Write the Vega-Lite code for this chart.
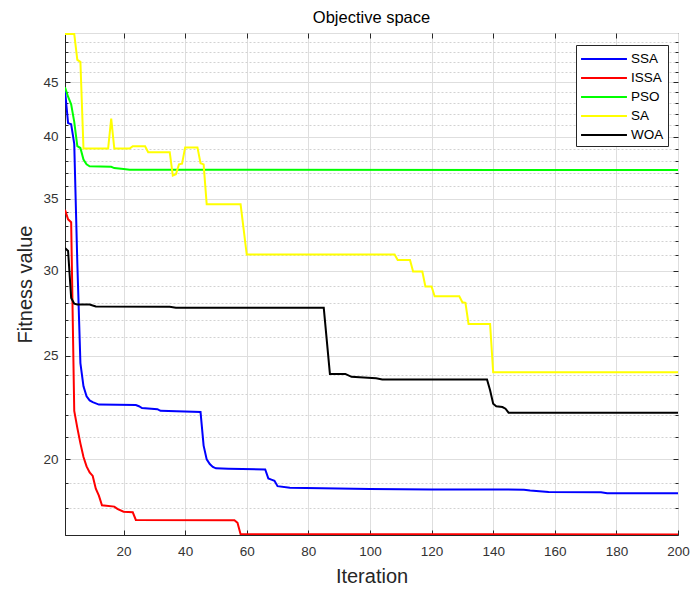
{
  "$schema": "https://vega.github.io/schema/vega-lite/v6.json",
  "width": 613,
  "height": 502,
  "autosize": {"type": "none"},
  "padding": {"left": 65, "top": 33, "right": 12, "bottom": 55},
  "background": "white",
  "title": {"text": "Objective space", "fontSize": 16.5, "fontWeight": "normal", "font": "Liberation Sans", "color": "#000000", "offset": 0, "anchor": "middle"},
  "config": {"view": {"stroke": "#262626", "strokeWidth": 1}, "font": "Liberation Sans"},
  "datasets": {
    "d": [
      {"s": "SSA", "it": 1, "v": 44.2}, {"s": "SSA", "it": 2, "v": 41.2}, {"s": "SSA", "it": 3, "v": 41.1}, {"s": "SSA", "it": 4, "v": 39.4},
      {"s": "SSA", "it": 5, "v": 30.5}, {"s": "SSA", "it": 6, "v": 24.6}, {"s": "SSA", "it": 7, "v": 23.4}, {"s": "SSA", "it": 8, "v": 22.9},
      {"s": "SSA", "it": 9, "v": 22.7}, {"s": "SSA", "it": 10, "v": 22.62}, {"s": "SSA", "it": 12, "v": 22.5}, {"s": "SSA", "it": 24, "v": 22.48},
      {"s": "SSA", "it": 25, "v": 22.42}, {"s": "SSA", "it": 26, "v": 22.33}, {"s": "SSA", "it": 31, "v": 22.28}, {"s": "SSA", "it": 32, "v": 22.2},
      {"s": "SSA", "it": 45, "v": 22.14}, {"s": "SSA", "it": 46, "v": 20.6}, {"s": "SSA", "it": 47, "v": 20.0}, {"s": "SSA", "it": 48, "v": 19.8},
      {"s": "SSA", "it": 49, "v": 19.68}, {"s": "SSA", "it": 50, "v": 19.62}, {"s": "SSA", "it": 54, "v": 19.6}, {"s": "SSA", "it": 66, "v": 19.57},
      {"s": "SSA", "it": 67, "v": 19.2}, {"s": "SSA", "it": 68, "v": 19.15}, {"s": "SSA", "it": 69, "v": 19.1}, {"s": "SSA", "it": 70, "v": 18.88},
      {"s": "SSA", "it": 74, "v": 18.82}, {"s": "SSA", "it": 100, "v": 18.77}, {"s": "SSA", "it": 120, "v": 18.75}, {"s": "SSA", "it": 150, "v": 18.74},
      {"s": "SSA", "it": 152, "v": 18.71}, {"s": "SSA", "it": 158, "v": 18.65}, {"s": "SSA", "it": 175, "v": 18.64}, {"s": "SSA", "it": 177, "v": 18.6},
      {"s": "SSA", "it": 200, "v": 18.6},
      {"s": "ISSA", "it": 1, "v": 34.2}, {"s": "ISSA", "it": 2, "v": 33.5}, {"s": "ISSA", "it": 3, "v": 33.3}, {"s": "ISSA", "it": 4, "v": 22.2},
      {"s": "ISSA", "it": 5, "v": 21.4}, {"s": "ISSA", "it": 6, "v": 20.7}, {"s": "ISSA", "it": 7, "v": 20.1}, {"s": "ISSA", "it": 8, "v": 19.7},
      {"s": "ISSA", "it": 9, "v": 19.45}, {"s": "ISSA", "it": 10, "v": 19.3}, {"s": "ISSA", "it": 11, "v": 18.78}, {"s": "ISSA", "it": 12, "v": 18.5},
      {"s": "ISSA", "it": 13, "v": 18.12}, {"s": "ISSA", "it": 17, "v": 18.07}, {"s": "ISSA", "it": 18, "v": 17.98}, {"s": "ISSA", "it": 20, "v": 17.87},
      {"s": "ISSA", "it": 23, "v": 17.85}, {"s": "ISSA", "it": 24, "v": 17.56}, {"s": "ISSA", "it": 56, "v": 17.55}, {"s": "ISSA", "it": 57, "v": 17.45},
      {"s": "ISSA", "it": 58, "v": 17.03}, {"s": "ISSA", "it": 200, "v": 17.02},
      {"s": "PSO", "it": 1, "v": 44.5}, {"s": "PSO", "it": 2, "v": 43.6}, {"s": "PSO", "it": 3, "v": 42.9}, {"s": "PSO", "it": 4, "v": 41.3},
      {"s": "PSO", "it": 5, "v": 39.2}, {"s": "PSO", "it": 6, "v": 39.05}, {"s": "PSO", "it": 7, "v": 38.1}, {"s": "PSO", "it": 8, "v": 37.7},
      {"s": "PSO", "it": 9, "v": 37.55}, {"s": "PSO", "it": 16, "v": 37.5}, {"s": "PSO", "it": 17, "v": 37.4}, {"s": "PSO", "it": 20, "v": 37.33},
      {"s": "PSO", "it": 22, "v": 37.27}, {"s": "PSO", "it": 200, "v": 37.25},
      {"s": "SA", "it": 1, "v": 49.9}, {"s": "SA", "it": 4, "v": 49.9}, {"s": "SA", "it": 5, "v": 47.2}, {"s": "SA", "it": 6, "v": 47.0},
      {"s": "SA", "it": 7, "v": 39.0}, {"s": "SA", "it": 15, "v": 39.0}, {"s": "SA", "it": 16, "v": 41.6}, {"s": "SA", "it": 17, "v": 39.0},
      {"s": "SA", "it": 22, "v": 39.0}, {"s": "SA", "it": 23, "v": 39.2}, {"s": "SA", "it": 27, "v": 39.2}, {"s": "SA", "it": 28, "v": 38.7},
      {"s": "SA", "it": 35, "v": 38.7}, {"s": "SA", "it": 36, "v": 36.8}, {"s": "SA", "it": 37, "v": 36.9}, {"s": "SA", "it": 38, "v": 37.7},
      {"s": "SA", "it": 39, "v": 37.75}, {"s": "SA", "it": 40, "v": 39.1}, {"s": "SA", "it": 44, "v": 39.1}, {"s": "SA", "it": 45, "v": 37.8},
      {"s": "SA", "it": 46, "v": 37.7}, {"s": "SA", "it": 47, "v": 34.6}, {"s": "SA", "it": 58, "v": 34.6}, {"s": "SA", "it": 60, "v": 31.06},
      {"s": "SA", "it": 108, "v": 31.06}, {"s": "SA", "it": 109, "v": 30.7}, {"s": "SA", "it": 113, "v": 30.7}, {"s": "SA", "it": 114, "v": 29.95},
      {"s": "SA", "it": 117, "v": 29.95}, {"s": "SA", "it": 118, "v": 29.0}, {"s": "SA", "it": 120, "v": 29.0}, {"s": "SA", "it": 121, "v": 28.39},
      {"s": "SA", "it": 129, "v": 28.39}, {"s": "SA", "it": 130, "v": 28.03}, {"s": "SA", "it": 131, "v": 28.0}, {"s": "SA", "it": 132, "v": 26.76},
      {"s": "SA", "it": 139, "v": 26.76}, {"s": "SA", "it": 140, "v": 24.12}, {"s": "SA", "it": 200, "v": 24.12},
      {"s": "WOA", "it": 1, "v": 31.5}, {"s": "WOA", "it": 2, "v": 31.3}, {"s": "WOA", "it": 3, "v": 28.3}, {"s": "WOA", "it": 4, "v": 27.95},
      {"s": "WOA", "it": 5, "v": 27.9}, {"s": "WOA", "it": 9, "v": 27.9}, {"s": "WOA", "it": 11, "v": 27.78}, {"s": "WOA", "it": 35, "v": 27.76},
      {"s": "WOA", "it": 37, "v": 27.7}, {"s": "WOA", "it": 85, "v": 27.7}, {"s": "WOA", "it": 87, "v": 24.03}, {"s": "WOA", "it": 92, "v": 24.03},
      {"s": "WOA", "it": 94, "v": 23.88}, {"s": "WOA", "it": 102, "v": 23.81}, {"s": "WOA", "it": 104, "v": 23.75}, {"s": "WOA", "it": 138, "v": 23.75},
      {"s": "WOA", "it": 139, "v": 23.2}, {"s": "WOA", "it": 140, "v": 22.54}, {"s": "WOA", "it": 141, "v": 22.42}, {"s": "WOA", "it": 143, "v": 22.38},
      {"s": "WOA", "it": 144, "v": 22.3}, {"s": "WOA", "it": 145, "v": 22.11}, {"s": "WOA", "it": 200, "v": 22.11}
    ]
  },
  "data": {"name": "d"},
  "layer": [
    {
      "mark": {"type": "line", "strokeWidth": 2, "clip": true},
      "encoding": {
        "x": {
          "field": "it", "type": "quantitative",
          "scale": {"domain": [1, 200], "nice": false, "zero": false},
          "axis": {
            "title": "Iteration", "values": [20, 40, 60, 80, 100, 120, 140, 160, 180, 200],
            "grid": true, "gridColor": "#dedede", "gridWidth": 1,
            "tickSize": -5, "tickColor": "#262626", "domainColor": "#262626",
            "labelColor": "#333333", "labelFontSize": 13.5, "labelPadding": 14, "labelFlush": false,
            "titleFontSize": 20, "titleFontWeight": "normal", "titleColor": "#262626", "titlePadding": 9
          }
        },
        "y": {
          "field": "v", "type": "quantitative",
          "scale": {"type": "log", "domain": [17, 50], "nice": false},
          "axis": {
            "title": "Fitness value",
            "values": [17, 18, 19, 20, 21, 22, 23, 24, 25, 26, 27, 28, 29, 30, 31, 32, 33, 34, 35, 36, 37, 38, 39, 40, 41, 42, 43, 44, 45, 46, 47, 48, 49, 50],
            "labelExpr": "datum.value % 5 === 0 && datum.value < 50 ? datum.label : ''",
            "labelOverlap": false, "labelBound": false,
            "grid": true,
            "gridColor": {"condition": {"test": "datum.value % 5 === 0", "value": "#dedede"}, "value": "#d2d2d2"},
            "gridDash": {"condition": {"test": "datum.value % 5 === 0", "value": []}, "value": [2, 2]},
            "tickSize": {"condition": {"test": "datum.value % 5 === 0", "value": -5}, "value": -3},
            "tickColor": "#262626", "domainColor": "#262626",
            "labelColor": "#333333", "labelFontSize": 13.5, "labelPadding": 12,
            "titleFontSize": 20, "titleFontWeight": "normal", "titleColor": "#262626", "titlePadding": 7
          }
        },
        "color": {
          "field": "s", "type": "nominal",
          "scale": {"domain": ["SSA", "ISSA", "PSO", "SA", "WOA"], "range": ["#0000ff", "#ff0000", "#00ff00", "#ffff00", "#000000"]},
          "legend": {
            "orient": "none", "legendX": 511, "legendY": 12, "title": null,
            "symbolType": "M-2.65,0H2.65", "symbolSize": 300, "symbolStrokeWidth": 2,
            "symbolOffset": 14, "labelOffset": 17, "labelFontSize": 13.5, "labelColor": "#000000",
            "fillColor": "white", "strokeColor": "#262626", "padding": 4, "rowPadding": 2
          }
        }
      }
    },
    {
      "mark": {"type": "line", "opacity": 0},
      "encoding": {
        "x": {
          "field": "it", "type": "quantitative",
          "axis": {"orient": "top", "title": null, "labels": false, "grid": false, "domain": false,
                   "values": [20, 40, 60, 80, 100, 120, 140, 160, 180], "tickSize": -5, "tickColor": "#262626"}
        },
        "y": {
          "field": "v", "type": "quantitative",
          "axis": {"orient": "right", "title": null, "labels": false, "grid": false, "domain": false,
                   "values": [18, 19, 20, 21, 22, 23, 24, 25, 26, 27, 28, 29, 30, 31, 32, 33, 34, 35, 36, 37, 38, 39, 40, 41, 42, 43, 44, 45, 46, 47, 48, 49],
                   "tickSize": {"condition": {"test": "datum.value % 5 === 0", "value": -5}, "value": -3},
                   "tickColor": "#262626"}
        },
        "detail": {"field": "s", "type": "nominal"}
      }
    }
  ],
  "resolve": {"axis": {"x": "independent", "y": "independent"}}
}
